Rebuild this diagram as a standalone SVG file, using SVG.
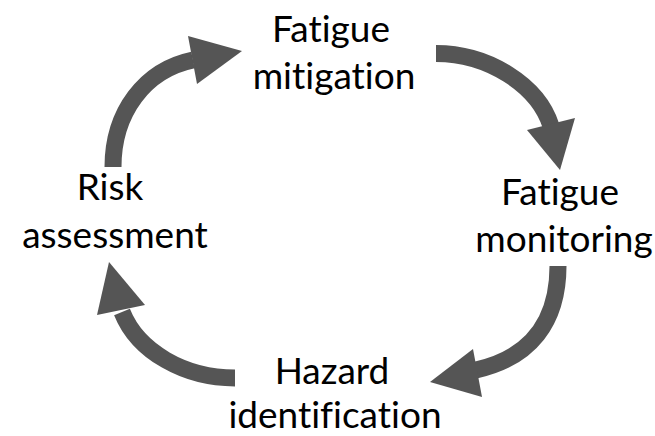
<svg xmlns="http://www.w3.org/2000/svg" width="655" height="436" viewBox="0 0 655 436">
<style>
.lbl{font-family:Lato,"Liberation Sans",sans-serif;font-size:37px;fill:#000;text-anchor:middle;font-variant-ligatures:none;font-feature-settings:"liga" 0,"clig" 0}
.shaft{fill:none;stroke:#555555;stroke-width:17}
.head{fill:#555555}
</style>
<rect width="655" height="436" fill="#ffffff"/>
<g id="connectors">
<g id="arrow-risk-to-mitigation">
<path class="shaft" d="M113,167 C113,112 145,70 193,60"/>
<polygon class="head" points="188,36 242,51 197,84"/>
</g>
<g id="arrow-mitigation-to-monitoring">
<path class="shaft" d="M436,53.5 C488,53.5 538,85 551,126"/>
<polygon class="head" points="527,130 560,170 575,118"/>
</g>
<g id="arrow-monitoring-to-hazard">
<path class="shaft" d="M558,266 C558,322 530,358 476,370"/>
<polygon class="head" points="473,349 430,382 482,397"/>
</g>
<g id="arrow-hazard-to-risk">
<path class="shaft" d="M235,378 C185,378 138,352 122,312"/>
<polygon class="head" points="97,315 109,262 145,305"/>
</g>
</g>
<g id="node-mitigation">
<text class="lbl" x="331" y="42">Fatigue</text>
<text class="lbl" x="334" y="89">mitigation</text>
</g>
<g id="node-monitoring">
<text class="lbl" x="560" y="205">Fatigue</text>
<text class="lbl" x="564" y="252">monitoring</text>
</g>
<g id="node-hazard">
<text class="lbl" x="332" y="384">Hazard</text>
<text class="lbl" x="335" y="428">identification</text>
</g>
<g id="node-risk">
<text class="lbl" x="110" y="200">Risk</text>
<text class="lbl" x="115" y="248">assessment</text>
</g>
</svg>
